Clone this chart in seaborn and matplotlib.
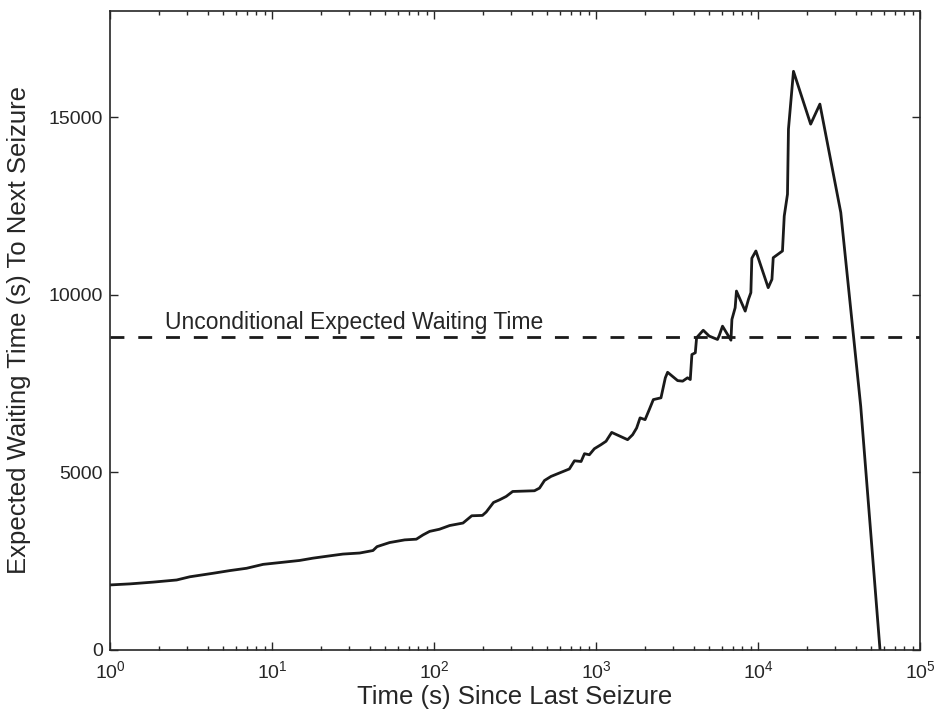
import numpy as np
import pandas as pd
import matplotlib
matplotlib.use('Agg')
import matplotlib.pyplot as plt
import seaborn as sns
from matplotlib.ticker import LogLocator, NullFormatter

# time since last seizure (s) and expected waiting time (s)
tempo = [1.00, 1.33, 1.85, 2.58, 3.11, 4.34, 5.50, 6.97, 8.81, 11.7,
         14.8, 17.9, 22.7, 27.4, 34.8, 42.0, 44.5, 53.2, 65.9, 77.8,
         85.5, 94.0, 108, 125, 151, 171, 199, 210, 233, 254,
         279, 306, 417, 448, 481, 528, 594, 685, 736, 809,
         849, 910, 977, 1074, 1153, 1250, 1567, 1683, 1782, 1871,
         2009, 2133, 2259, 2518, 2679, 2767, 3192, 3428, 3673, 3819,
         3908, 4102, 4178, 4592, 5000, 5623, 5768, 6039, 6486, 6808,
         6902, 7228, 7362, 8337, 8730, 9036, 9162, 9705, 11561, 12190,
         12417, 14158, 14521, 15205, 15417, 16558, 21135, 24099, 32434, 43053,
         56624]
espera = [1820, 1850, 1900, 1960, 2050, 2150, 2225, 2290, 2400, 2460,
          2510, 2575, 2640, 2690, 2720, 2790, 2900, 3015, 3090, 3110,
          3230, 3330, 3390, 3495, 3565, 3770, 3780, 3875, 4145, 4220,
          4315, 4455, 4475, 4550, 4765, 4880, 4975, 5090, 5320, 5300,
          5520, 5490, 5660, 5775, 5870, 6120, 5915, 6055, 6245, 6530,
          6480, 6765, 7045, 7095, 7660, 7815, 7580, 7565, 7660, 7610,
          8315, 8365, 8790, 9000, 8835, 8740, 8855, 9115, 8880, 8720,
          9305, 9635, 10105, 9540, 9870, 10060, 11030, 11235, 10200, 10435,
          11045, 11235, 12220, 12835, 14670, 16300, 14810, 15375, 12320, 6860,
          0]
espera_incond = 8800
rotulo_incond = "Unconditional Expected Waiting Time"

sns.set_style("ticks")
plt.rcParams['font.family'] = ['Liberation Sans', 'DejaVu Sans']
plt.rcParams['mathtext.fontset'] = 'custom'
plt.rcParams['mathtext.rm'] = 'Liberation Sans'
plt.rcParams['mathtext.it'] = 'Liberation Sans:italic'

df = pd.DataFrame({"tempo": tempo, "espera": espera})

fig = plt.figure(figsize=(9.5, 7.13), dpi=100)
ax = fig.add_axes([110/950, 63.5/713, 810/950, 638.5/713])

sns.lineplot(data=df, x="tempo", y="espera", ax=ax, color="#1a1a1a",
             linewidth=2.0, sort=False, estimator=None)
ax.axhline(espera_incond, color="#1a1a1a", linewidth=2.0, linestyle=(0, (5, 5)))
ax.text(2.2, espera_incond + 90, rotulo_incond, fontsize=16.5, ha='left', va='bottom')

ax.set_xscale('log')
ax.set_xlim(1, 1e5)
ax.set_ylim(0, 18000)
ax.set_yticks([0, 5000, 10000, 15000])
ax.xaxis.set_major_locator(LogLocator(base=10, numticks=10))
ax.xaxis.set_minor_locator(LogLocator(base=10, subs=np.arange(2, 10), numticks=20))
ax.xaxis.set_minor_formatter(NullFormatter())

ax.tick_params(which='both', direction='in', top=True, right=True, labelsize=14, width=1)
ax.tick_params(which='major', length=6)
ax.tick_params(axis='y', pad=5)
ax.tick_params(axis='x', pad=8)
ax.tick_params(which='minor', length=3)
for s in ax.spines.values():
    s.set_linewidth(1.2)

ax.set_xlabel("Time (s) Since Last Seizure", fontsize=18.5)
ax.set_ylabel("Expected Waiting Time (s) To Next Seizure", fontsize=18.5)
ax.xaxis.set_label_coords(0.5, -0.056)
ax.yaxis.set_label_coords(-0.097, 0.5)

plt.savefig("out.png", dpi=100)
plt.close()
